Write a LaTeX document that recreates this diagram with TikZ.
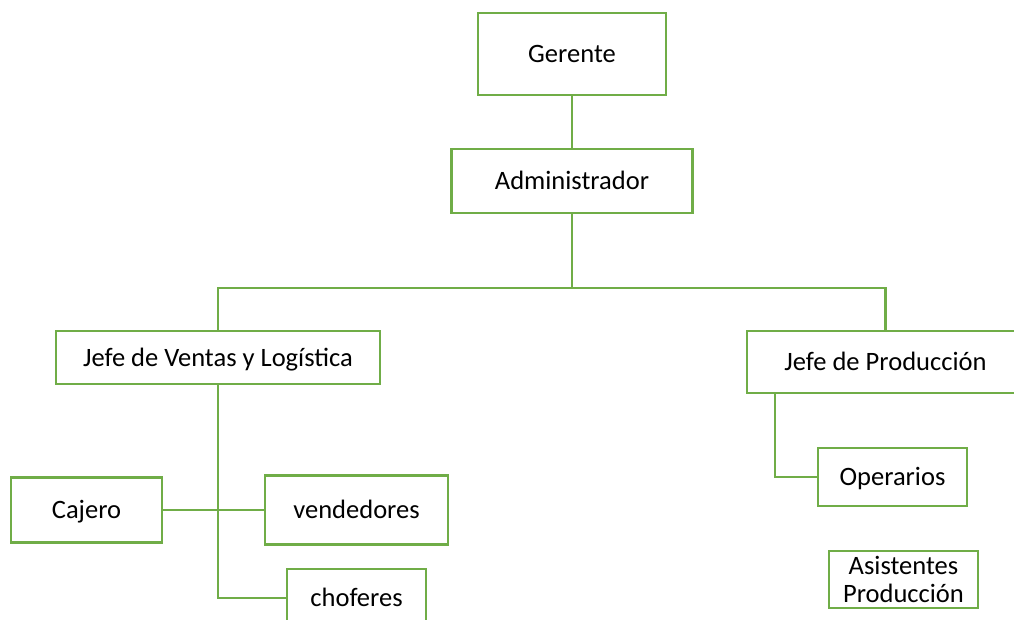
\documentclass[tikz,border=0pt]{standalone}
\usepackage{fontspec}
\setmainfont{Carlito}
\usetikzlibrary{calc}
\definecolor{boxgreen}{RGB}{112,173,71}
\tikzset{
  orgbox/.style={draw=boxgreen, line width=1.9pt, fill=white, inner sep=0pt, outer sep=0pt,
    font=\fontsize{19.9}{21}\selectfont, text height=12.8pt, text depth=0pt, align=center},
  orgline/.style={draw=boxgreen, line width=1.9pt},
  asbox/.style={draw=boxgreen, line width=1.9pt, fill=white, inner sep=0pt, outer sep=0pt,
    font=\fontsize{19.9}{21}\selectfont, align=center}
}
\begin{document}
\begin{tikzpicture}[x=0.75pt,y=-0.75pt]
\useasboundingbox (0,0) rectangle (1014,620);
\clip (0,0) rectangle (1014,620);
% nodes
\node[orgbox, minimum width={188*0.75pt}, minimum height={82*0.75pt}] (g) at (572,54) {Gerente};
\node[orgbox, minimum width={241*0.75pt}, minimum height={64*0.75pt}] (a) at (572,181) {Administrador};
\node[orgbox, minimum width={324*0.75pt}, minimum height={53*0.75pt}] (jv) at (218,357.5) {Jefe de Ventas y Logística};
\node[orgbox, minimum width={277*0.75pt}, minimum height={62*0.75pt}] (jp) at (885.5,362) {Jefe de Producción};
\node[orgbox, minimum width={151*0.75pt}, minimum height={65*0.75pt}] (caj) at (86.5,510) {Cajero};
\node[orgbox, minimum width={183*0.75pt}, minimum height={69*0.75pt}] (ven) at (356.5,510) {vendedores};
\node[orgbox, minimum width={139*0.75pt}, minimum height={58*0.75pt}] (cho) at (356.5,598) {choferes};
\node[orgbox, minimum width={149*0.75pt}, minimum height={58*0.75pt}] (op) at (892.5,477) {Operarios};
\node[asbox, minimum width={149*0.75pt}, minimum height={57*0.75pt}] (as) at (903.5,579.5) {Asistentes\\Producción};
% bus coordinates
\coordinate (busL) at (218,288);
\coordinate (busR) at (885.5,288);
\coordinate (jpdrop) at ($(jp.south west)+(28,0)$);
% connectors
\draw[orgline] (g.south) -- (a.north);
\draw[orgline] (a.south) -- (a.south |- busL);
\draw[orgline] (jv.north) -- (busL) -- (busR) -- (jp.north);
\draw[orgline] (jv.south) |- (cho.west);
\draw[orgline] (caj.east) -- (ven.west);
\draw[orgline] (jpdrop) |- (op.west);
\end{tikzpicture}
\end{document}
